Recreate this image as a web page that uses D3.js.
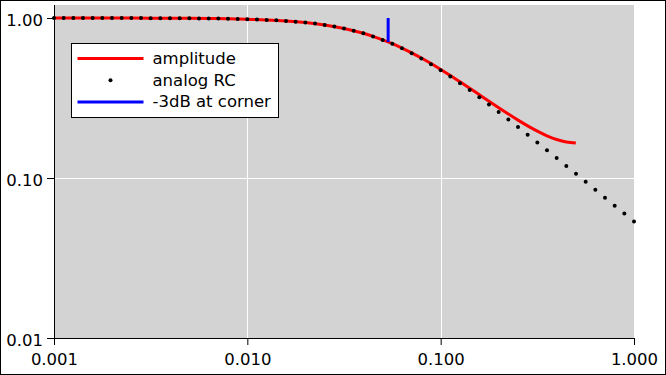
<!DOCTYPE html>
<html lang="en">

<head>
  <meta charset="UTF-8">
  <title>Low-pass amplitude</title>
  <script src="https://d3js.org/d3.v7.min.js"></script>
  <style>
    body {
      margin: 0;
      background: #fff;
    }

    text {
      font-family: 'DejaVu Sans', sans-serif;
      fill: #000;
    }

    .grid line {
      stroke: #fff;
      stroke-width: 1px;
    }
  </style>
</head>

<body>
  <div id="chart"></div>

  <script>
    // frequencies (cycles/sample) of the analog RC dots, 0.05 decade apart
    const rcFreq = [
      0.001, 0.001122, 0.001259, 0.001413, 0.001585, 0.001778, 0.001995, 0.002239, 0.002512, 0.002818,
      0.003162, 0.003548, 0.003981, 0.004467, 0.005012, 0.005623, 0.00631, 0.007079, 0.007943, 0.008913,
      0.01, 0.01122, 0.01259, 0.01413, 0.01585, 0.01778, 0.01995, 0.02239, 0.02512, 0.02818,
      0.03162, 0.03548, 0.03981, 0.04467, 0.05012, 0.05623, 0.0631, 0.07079, 0.07943, 0.08913,
      0.1, 0.1122, 0.1259, 0.1413, 0.1585, 0.1778, 0.1995, 0.2239, 0.2512, 0.2818,
      0.3162, 0.3548, 0.3981, 0.4467, 0.5012, 0.5623, 0.631, 0.7079, 0.7943, 0.8913, 1.0
    ];
    const rcAmp = [
      0.9998, 0.9998, 0.9997, 0.9997, 0.9996, 0.9994, 0.9993, 0.9991, 0.9989, 0.9986,
      0.9983, 0.9978, 0.9972, 0.9965, 0.9956, 0.9945, 0.9931, 0.9914, 0.9892, 0.9864,
      0.9830, 0.9787, 0.9734, 0.9668, 0.9587, 0.9490, 0.9371, 0.9226, 0.9053, 0.8848,
      0.8609, 0.8334, 0.8024, 0.7677, 0.7298, 0.6893, 0.6468, 0.6030, 0.5587, 0.5147,
      0.4718, 0.4304, 0.3912, 0.3543, 0.3199, 0.2881, 0.2590, 0.2324, 0.2084, 0.1865,
      0.1668, 0.1491, 0.1332, 0.1190, 0.1062, 0.0948, 0.0845, 0.0754, 0.0672, 0.0599, 0.0534
    ];

    // digital filter amplitude (red line), up to Nyquist
    const ampFreq = [
      0.001, 0.001259, 0.001585, 0.001995, 0.002512, 0.003162, 0.003981, 0.005012, 0.00631, 0.007943,
      0.01, 0.01259, 0.01585, 0.01995, 0.02512, 0.03162, 0.03981, 0.04467, 0.05012, 0.05623,
      0.0631, 0.07079, 0.07943, 0.08913, 0.1, 0.1122, 0.1259, 0.1413, 0.1585, 0.1778,
      0.1995, 0.2239, 0.2512, 0.2818, 0.3162, 0.3548, 0.3981, 0.4467, 0.5
    ];
    const ampValue = [
      0.9998, 0.9997, 0.9996, 0.9993, 0.9989, 0.9983, 0.9972, 0.9956, 0.9931, 0.9892,
      0.9829, 0.9734, 0.9587, 0.9369, 0.9051, 0.8609, 0.8026, 0.7682, 0.7307, 0.6906,
      0.6486, 0.6055, 0.5620, 0.5191, 0.4772, 0.4372, 0.3993, 0.3641, 0.3315, 0.3018,
      0.2751, 0.2512, 0.2301, 0.2119, 0.1964, 0.1837, 0.1741, 0.1678, 0.1655
    ];

    // -3dB marker at the corner frequency
    const cornerFreq = [0.0535, 0.0535];
    const cornerAmp = [1.0, 0.707];

    const xTicks = [0.001, 0.01, 0.1, 1];
    const yTicks = [0.01, 0.1, 1];
    const legendLabels = ['amplitude', 'analog RC', '-3dB at corner'];

    const width = 666;
    const height = 375;
    const margin = { top: 5, right: 32, bottom: 37, left: 54 };
    const plotW = width - margin.left - margin.right;
    const plotH = height - margin.top - margin.bottom;
    const fontSize = '16.5px';

    const svg = d3.select('#chart').append('svg')
      .attr('width', width)
      .attr('height', height);

    // outer frame
    svg.append('rect')
      .attr('x', 0.5).attr('y', 0.5)
      .attr('width', width - 1).attr('height', height - 1)
      .attr('fill', '#fff')
      .attr('stroke', '#000');

    const g = svg.append('g')
      .attr('transform', `translate(${margin.left},${margin.top})`);

    const x = d3.scaleLog().domain([0.001, 1]).range([0, plotW]);
    const y = d3.scaleLog().domain([0.01, 1.206]).range([plotH, 0]);

    g.append('rect')
      .attr('width', plotW)
      .attr('height', plotH)
      .attr('fill', '#d3d3d3');

    // grid lines at the inner decades
    const grid = g.append('g').attr('class', 'grid');
    grid.selectAll('.vx')
      .data(xTicks.slice(1, -1))
      .enter().append('line')
      .attr('x1', d => Math.round(x(d)) + 0.5)
      .attr('x2', d => Math.round(x(d)) + 0.5)
      .attr('y1', 0)
      .attr('y2', plotH);
    grid.selectAll('.hy')
      .data(yTicks.slice(1, -1))
      .enter().append('line')
      .attr('x1', 0)
      .attr('x2', plotW)
      .attr('y1', d => Math.round(y(d)) + 0.5)
      .attr('y2', d => Math.round(y(d)) + 0.5);

    // axes
    const xAxis = g.append('g')
      .attr('transform', `translate(0,${plotH})`)
      .call(d3.axisBottom(x).tickValues(xTicks).tickFormat(d3.format('.3f')).tickSize(7).tickSizeOuter(0).tickPadding(8.5));
    const yAxis = g.append('g')
      .call(d3.axisLeft(y).tickValues(yTicks).tickFormat(d3.format('.2f')).tickSize(7).tickSizeOuter(0).tickPadding(4));

    [xAxis, yAxis].forEach(a => {
      a.selectAll('text').style('font-size', fontSize).style('font-family', "'DejaVu Sans', sans-serif");
      a.select('.domain').attr('stroke', '#000');
      a.selectAll('.tick line').attr('stroke', '#000');
    });
    yAxis.selectAll('text').attr('dy', '0.48em');
    // y axis line runs only along the plot area
    yAxis.select('.domain').attr('d', `M0.5,0V${plotH}`);

    // red amplitude line
    const line = d3.line()
      .x(d => x(d[0]))
      .y(d => y(d[1]))
      .curve(d3.curveMonotoneX);

    g.append('path')
      .datum(ampFreq.map((f, i) => [f, ampValue[i]]))
      .attr('d', line)
      .attr('fill', 'none')
      .attr('stroke', '#ff0000')
      .attr('stroke-width', 3);

    // analog RC dots
    g.selectAll('.dot')
      .data(rcFreq.map((f, i) => [f, rcAmp[i]]))
      .enter().append('circle')
      .attr('class', 'dot')
      .attr('cx', d => x(d[0]))
      .attr('cy', d => y(d[1]))
      .attr('r', 2)
      .attr('fill', '#000');

    // corner marker
    g.append('path')
      .datum(cornerFreq.map((f, i) => [f, cornerAmp[i]]))
      .attr('d', d3.line().x(d => x(d[0])).y(d => y(d[1])))
      .attr('fill', 'none')
      .attr('stroke', '#0000ff')
      .attr('stroke-width', 3);

    // legend
    const lg = svg.append('g').attr('transform', 'translate(71.5,43.5)');
    lg.append('rect')
      .attr('width', 207)
      .attr('height', 74)
      .attr('fill', '#fff')
      .attr('stroke', '#000');

    const rows = lg.selectAll('.row')
      .data(legendLabels)
      .enter().append('g')
      .attr('transform', (d, i) => `translate(0,${15 + i * 21.7})`);

    rows.filter((d, i) => i !== 1).append('line')
      .attr('x1', 6).attr('x2', 72)
      .attr('y1', 0).attr('y2', 0)
      .attr('stroke', (d, i) => i === 0 ? '#ff0000' : '#0000ff')
      .attr('stroke-width', 3);

    rows.filter((d, i) => i === 1).append('circle')
      .attr('cx', 39).attr('cy', 0).attr('r', 2).attr('fill', '#000');

    rows.append('text')
      .attr('x', 81)
      .attr('y', 5.5)
      .style('font-size', fontSize)
      .text(d => d);
  </script>

</body>

</html>
